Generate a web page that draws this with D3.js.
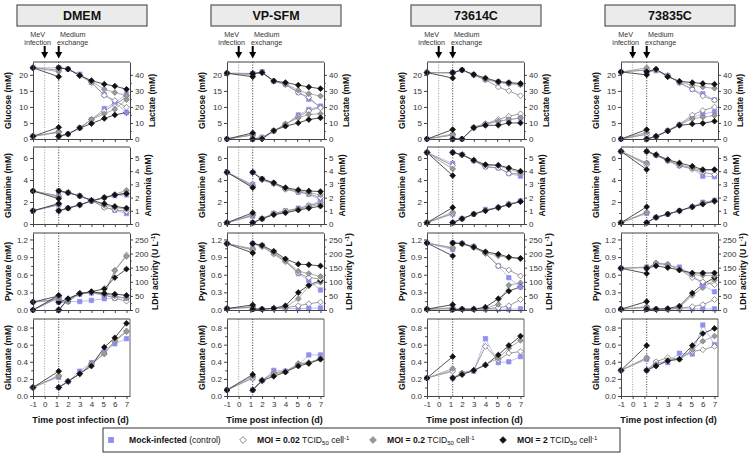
<!DOCTYPE html>
<html><head><meta charset="utf-8">
<script src="https://cdn.jsdelivr.net/npm/d3@7"></script>
<style>body{margin:0;background:#fff}text{font-family:Arial,"Liberation Sans",sans-serif}</style>
</head><body><svg id="c" width="753" height="456"></svg>
<script>
// ---------- DATA ----------
const media = ["DMEM", "VP-SFM", "73614C", "73835C"];
// sampling days: index 0-1 before medium exchange, 2-8 after exchange
const days = [-1, 1.2, 1.2, 2, 3, 4, 5.1, 6, 7];
const xTicks = [-1, 0, 1, 2, 3, 4, 5, 6, 7];
const infectionDay = 0;
const exchangeDay = 1.2;
const seriesNames = ["Mock-infected", "MOI = 0.02", "MOI = 0.2", "MOI = 2"];

const glucoseTicks = [0, 5, 10, 15, 20];
const lactateTicks = [0, 10, 20, 30, 40];
const glutamineTicks = [0, 2, 4, 6];
const ammoniaTicks = [0, 1, 2, 3, 4, 5];
const pyruvateTicks = [0, 0.3, 0.6, 0.9, 1.2];
const ldhTicks = [0, 50, 100, 150, 200, 250];
const glutamateTicks = [0, 0.2, 0.4, 0.6, 0.8];

// each array: [mock, MOI 0.02, MOI 0.2, MOI 2]
const dmemGlucose = [
  [22.2, 22.2, 22.2, 21.8, 20.2, 17.6, 13.8, 11.5, 8.2],
  [22.2, 21.5, 22.2, 21.8, 19.8, 17.6, 13.6, 12.0, 9.9],
  [22.2, 21.0, 22.2, 21.8, 19.8, 17.9, 15.5, 14.5, 13.5],
  [22.2, 19.4, 22.2, 21.8, 19.8, 18.2, 17.1, 16.5, 15.5]];
const dmemLactate = [
  [1.7, 4.2, 1.7, 3.1, 6.9, 12.1, 19.0, 22.5, 28.0],
  [1.7, 4.2, 1.7, 3.1, 6.9, 12.1, 17.4, 21.5, 26.0],
  [1.7, 4.6, 1.7, 3.1, 6.9, 12.1, 15.7, 18.5, 24.5],
  [1.7, 7.3, 1.7, 3.1, 6.9, 9.6, 12.8, 15.0, 16.5]];
const dmemGlutamine = [
  [3.0, 2.55, 3.0, 2.85, 2.55, 2.15, 1.55, 1.25, 0.95],
  [3.0, 2.55, 3.0, 2.85, 2.55, 2.15, 1.5, 1.3, 1.15],
  [3.0, 2.45, 3.0, 2.85, 2.55, 2.15, 1.7, 1.5, 1.35],
  [3.0, 2.3, 3.0, 2.85, 2.55, 2.15, 1.85, 1.6, 1.45]];
const dmemAmmonia = [
  [1.0, 1.45, 1.0, 1.2, 1.45, 1.75, 2.0, 2.15, 2.2],
  [1.0, 1.45, 1.0, 1.2, 1.45, 1.75, 2.0, 2.2, 2.35],
  [1.0, 1.5, 1.0, 1.2, 1.45, 1.75, 2.0, 2.25, 2.55],
  [1.0, 1.55, 1.0, 1.2, 1.45, 1.75, 2.0, 2.2, 2.3]];
const dmemPyruvate = [
  [0.0, 0.2, 0.0, 0.18, 0.27, 0.29, 0.25, 0.22, 0.2],
  [0.0, 0.22, 0.0, 0.18, 0.28, 0.3, 0.26, 0.2, 0.15],
  [0.0, 0.22, 0.0, 0.18, 0.28, 0.3, 0.28, 0.24, 0.2],
  [0.0, 0.25, 0.0, 0.19, 0.28, 0.31, 0.28, 0.27, 0.25]];
const dmemLdh = [
  [28, 35, 28, 30, 30, 34, 40, 42, 45],
  [28, 38, 28, 30, 58, 62, 55, 140, 195],
  [28, 38, 28, 30, 58, 62, 60, 140, 190],
  [28, 50, 28, 40, 58, 65, 75, 115, 145]];
const dmemGlutamate = [
  [0.1, 0.22, 0.1, 0.17, 0.29, 0.39, 0.52, 0.61, 0.67],
  [0.1, 0.24, 0.1, 0.17, 0.26, 0.37, 0.5, 0.64, 0.75],
  [0.1, 0.23, 0.1, 0.17, 0.26, 0.38, 0.49, 0.65, 0.76],
  [0.1, 0.29, 0.1, 0.17, 0.26, 0.35, 0.57, 0.68, 0.85]];

const vpGlucose = [
  [20.5, 20.4, 20.4, 21.0, 18.0, 17.0, 14.5, 12.4, 10.0],
  [20.5, 20.4, 20.4, 20.7, 18.0, 17.0, 14.5, 13.0, 9.7],
  [20.5, 20.0, 20.4, 20.7, 18.1, 17.2, 15.2, 14.1, 13.4],
  [20.5, 19.4, 20.4, 20.7, 18.1, 17.6, 16.8, 16.2, 15.7]];
const vpLactate = [
  [0, 2.5, 0, 1.0, 5.0, 9.0, 15.0, 18.4, 20.5],
  [0, 2.5, 0, 1.0, 5.0, 9.2, 14.0, 17.5, 19.9],
  [0, 2.7, 0, 0.5, 5.0, 9.4, 13.2, 15.3, 15.7],
  [0, 3.8, 0, 0.0, 5.2, 8.0, 10.0, 12.1, 13.2]];
const vpGlutamine = [
  [4.7, 3.6, 4.7, 4.1, 3.7, 3.2, 2.9, 2.7, 2.2],
  [4.7, 3.5, 4.7, 4.0, 3.65, 3.15, 2.9, 2.75, 2.4],
  [4.7, 3.4, 4.7, 4.05, 3.7, 3.25, 3.0, 2.85, 2.65],
  [4.7, 3.3, 4.7, 4.1, 3.75, 3.3, 3.1, 3.0, 2.95]];
const vpAmmonia = [
  [0.1, 0.6, 0.1, 0.4, 0.8, 1.0, 1.2, 1.4, 1.75],
  [0.1, 0.65, 0.1, 0.4, 0.8, 1.0, 1.15, 1.4, 1.6],
  [0.1, 0.7, 0.1, 0.4, 0.75, 0.9, 1.1, 1.3, 1.5],
  [0.1, 0.85, 0.1, 0.4, 0.7, 0.85, 1.05, 1.2, 1.35]];
const vpPyruvate = [
  [1.13, 1.04, 1.13, 1.1, 0.97, 0.84, 0.62, 0.5, 0.34],
  [1.13, 1.02, 1.13, 1.08, 0.95, 0.82, 0.63, 0.55, 0.53],
  [1.13, 1.04, 1.13, 1.08, 0.97, 0.84, 0.66, 0.62, 0.57],
  [1.13, 0.97, 1.13, 1.1, 1.0, 0.87, 0.78, 0.77, 0.75]];
const vpLdh = [
  [5, 8, 3, 3, 5, 5, 5, 6, 7],
  [5, 10, 3, 3, 6, 8, 15, 22, 28],
  [5, 12, 3, 3, 6, 10, 40, 85, 98],
  [5, 18, 3, 3, 6, 15, 62, 88, 105]];
const vpGlutamate = [
  [0.07, 0.21, 0.07, 0.18, 0.3, 0.29, 0.36, 0.48, 0.48],
  [0.07, 0.21, 0.07, 0.18, 0.27, 0.29, 0.37, 0.39, 0.43],
  [0.07, 0.23, 0.07, 0.19, 0.26, 0.28, 0.38, 0.39, 0.44],
  [0.07, 0.25, 0.07, 0.18, 0.23, 0.28, 0.35, 0.38, 0.43]];

const c614Glucose = [
  [20.7, 20.7, 20.7, 21.5, 20.0, 18.6, 17.8, 17.4, 17.0],
  [20.7, 20.7, 20.7, 21.5, 20.0, 18.4, 16.2, 15.0, 13.5],
  [20.7, 20.5, 20.7, 21.5, 20.0, 18.6, 17.6, 17.2, 16.9],
  [20.7, 19.0, 20.7, 21.5, 20.1, 19.0, 17.9, 17.6, 17.3]];
const c614Lactate = [
  [0, 2.5, 0, 0, 7.0, 9.0, 11.0, 12.0, 13.0],
  [0, 2.5, 0, 0, 7.3, 9.5, 12.1, 14.2, 15.7],
  [0, 3.1, 0, 0, 7.3, 9.4, 11.1, 12.1, 13.2],
  [0, 5.9, 0, 0, 7.0, 8.5, 8.6, 10.0, 10.0]];
const c614Glutamine = [
  [6.5, 5.5, 6.5, 6.3, 5.75, 5.2, 5.1, 4.6, 4.35],
  [6.5, 5.3, 6.5, 6.3, 5.75, 5.2, 5.1, 4.6, 4.55],
  [6.5, 5.0, 6.5, 6.3, 5.8, 5.35, 5.3, 5.0, 4.65],
  [6.5, 4.4, 6.5, 6.3, 5.8, 5.4, 5.35, 5.1, 4.8]];
const c614Ammonia = [
  [0.1, 0.75, 0.1, 0.4, 0.75, 1.1, 1.25, 1.5, 1.75],
  [0.1, 0.8, 0.1, 0.4, 0.75, 1.05, 1.25, 1.5, 1.7],
  [0.1, 0.9, 0.1, 0.4, 0.75, 1.0, 1.25, 1.5, 1.72],
  [0.1, 1.25, 0.1, 0.4, 0.75, 1.0, 1.25, 1.45, 1.7]];
const c614Pyruvate = [
  [1.14, 1.03, 1.14, 1.13, 1.08, 0.98, 0.75, 0.55, 0.39],
  [1.14, 1.05, 1.14, 1.13, 1.06, 0.96, 0.75, 0.68, 0.58],
  [1.14, 1.06, 1.14, 1.13, 1.08, 0.97, 0.92, 0.89, 0.87],
  [1.14, 0.92, 1.14, 1.13, 1.07, 0.99, 0.95, 0.9, 0.88]];
const c614Ldh = [
  [3, 4, 2, 3, 3, 3, 3, 3, 4],
  [3, 5, 2, 3, 3, 4, 8, 15, 37],
  [3, 8, 2, 3, 3, 6, 20, 88, 96],
  [3, 19, 2, 3, 3, 10, 40, 67, 82]];
const c614Glutamate = [
  [0.21, 0.3, 0.21, 0.26, 0.29, 0.67, 0.39, 0.4, 0.46],
  [0.21, 0.29, 0.21, 0.27, 0.3, 0.58, 0.42, 0.5, 0.52],
  [0.21, 0.32, 0.21, 0.26, 0.3, 0.37, 0.44, 0.56, 0.65],
  [0.21, 0.46, 0.21, 0.25, 0.3, 0.36, 0.48, 0.59, 0.7]];

const c835Glucose = [
  [20.9, 21.5, 20.9, 21.3, 19.8, 17.6, 15.5, 14.1, 12.2],
  [20.9, 21.5, 20.9, 21.5, 19.8, 17.5, 15.5, 13.4, 12.1],
  [20.9, 22.2, 20.9, 21.5, 19.6, 17.8, 16.8, 16.2, 15.8],
  [20.9, 20.0, 21.0, 21.8, 19.4, 18.0, 17.6, 17.3, 17.1]];
const c835Lactate = [
  [0, 3.0, 0, 1.5, 5.2, 9.0, 13.6, 15.5, 17.0],
  [0, 3.0, 0, 1.5, 5.2, 9.0, 14.9, 17.8, 19.9],
  [0, 4.2, 0, 1.5, 5.2, 8.8, 12.6, 13.6, 14.6],
  [0, 5.9, 0, 1.7, 5.0, 8.5, 9.4, 9.8, 11.1]];
const c835Glutamine = [
  [6.6, 5.5, 6.6, 6.25, 5.75, 5.3, 5.05, 4.35, 4.3],
  [6.6, 5.4, 6.6, 6.25, 5.75, 5.3, 5.0, 4.7, 4.5],
  [6.6, 5.55, 6.6, 6.3, 5.8, 5.4, 5.1, 4.85, 4.9],
  [6.6, 4.95, 6.6, 6.3, 5.85, 5.55, 5.25, 4.95, 4.95]];
const c835Ammonia = [
  [0.1, 0.8, 0.1, 0.5, 0.75, 1.0, 1.3, 1.65, 1.8],
  [0.1, 0.85, 0.1, 0.5, 0.75, 1.0, 1.3, 1.6, 1.72],
  [0.1, 0.9, 0.1, 0.5, 0.75, 1.0, 1.3, 1.55, 1.7],
  [0.1, 1.3, 0.1, 0.5, 0.75, 1.0, 1.3, 1.5, 1.75]];
const c835Pyruvate = [
  [0.71, 0.73, 0.71, 0.78, 0.76, 0.73, 0.6, 0.42, 0.31],
  [0.71, 0.73, 0.71, 0.8, 0.77, 0.69, 0.55, 0.48, 0.43],
  [0.71, 0.72, 0.71, 0.8, 0.78, 0.68, 0.6, 0.59, 0.58],
  [0.71, 0.62, 0.71, 0.75, 0.72, 0.68, 0.63, 0.63, 0.63]];
const c835Ldh = [
  [3, 8, 3, 3, 3, 4, 4, 4, 4],
  [3, 10, 3, 3, 3, 6, 12, 19, 37],
  [3, 12, 3, 3, 4, 10, 52, 79, 106],
  [3, 30, 3, 3, 5, 14, 60, 91, 115]];
const c835Glutamate = [
  [0.3, 0.43, 0.3, 0.39, 0.39, 0.5, 0.49, 0.83, 0.6],
  [0.3, 0.44, 0.3, 0.4, 0.45, 0.43, 0.52, 0.54, 0.58],
  [0.3, 0.45, 0.3, 0.37, 0.42, 0.43, 0.54, 0.64, 0.7],
  [0.3, 0.59, 0.3, 0.35, 0.41, 0.43, 0.59, 0.73, 0.79]];

// ---------- LAYOUT / STYLE ----------
const svg = d3.select("#c");
const colLeft = [33, 227, 427, 621];
const plotW = 97;
const rowTop = [62, 147, 233, 319];
const plotH = 77;
const fontF = 'Arial,"Liberation Sans",sans-serif';

const styles = [
  {fill: "#8f8ff0", stroke: "#8f8ff0", line: "#b4b4ee", shape: "square"},
  {fill: "#ffffff", stroke: "#666", line: "#8c8c8c", shape: "diamond"},
  {fill: "#9a9a9a", stroke: "#7a7a7a", line: "#a0a0a0", shape: "diamond"},
  {fill: "#111", stroke: "#111", line: "#333", shape: "diamond"}
];

const rows = [
  {left: [dmemGlucose, vpGlucose, c614Glucose, c835Glucose],
   right: [dmemLactate, vpLactate, c614Lactate, c835Lactate],
   lDom: [0, 24], rDom: [0, 48], lTicks: glucoseTicks, lMinor: [],
   rTicks: lactateTicks, rMinor: [5, 15, 25, 35], lFmt: d3.format("d"), rFmt: d3.format("d"),
   lTitle: ["Glucose (mM)"], rTitle: ["Lactate (mM)"], rOff: 24.5},
  {left: [dmemGlutamine, vpGlutamine, c614Glutamine, c835Glutamine],
   right: [dmemAmmonia, vpAmmonia, c614Ammonia, c835Ammonia],
   lDom: [0, 7], rDom: [0, 7 * 5 / 6], lTicks: glutamineTicks, lMinor: [1, 3, 5],
   rTicks: ammoniaTicks, rMinor: [], lFmt: d3.format("d"), rFmt: d3.format("d"),
   lTitle: ["Glutamine (mM)"], rTitle: ["Ammonia (mM)"], rOff: 21},
  {left: [dmemPyruvate, vpPyruvate, c614Pyruvate, c835Pyruvate],
   right: [dmemLdh, vpLdh, c614Ldh, c835Ldh],
   lDom: [0, 1.31], rDom: [0, 1.31 * 250 / 1.2], lTicks: pyruvateTicks, lMinor: [0.15, 0.45, 0.75, 1.05],
   rTicks: ldhTicks, rMinor: [25, 75, 125, 175, 225], lFmt: d3.format(".1f"), rFmt: d3.format("d"),
   lTitle: ["Pyruvate (mM)"], rTitle: ["LDH activity (U L", "-1", ")"], rOff: 27.5},
  {left: [dmemGlutamate, vpGlutamate, c614Glutamate, c835Glutamate],
   right: null,
   lDom: [0, 0.9], lTicks: glutamateTicks, lMinor: [0.1, 0.3, 0.5, 0.7],
   lFmt: d3.format(".1f"), lTitle: ["Glutamate (mM)"]}
];

function markerPath(shape) {
  if (shape === "square") return "M-2.2,-2.2H2.2V2.2H-2.2Z";
  const r = 2.9;
  return `M0,${-r}L${r},0L0,${r}L${-r},0Z`;
}

function styleAxis(g) {
  g.selectAll("path.domain").attr("stroke", "#444").attr("stroke-width", 1);
  g.selectAll(".tick line").attr("stroke", "#444");
  g.selectAll(".tick text").attr("fill", "#333").attr("font-size", 8).attr("font-family", fontF);
}

function drawVar(g, x, y, dataSets) {
  const segs = [[0, 1], [2, 3, 4, 5, 6, 7, 8]];
  const line = d3.line();
  dataSets.forEach((vals, si) => {
    segs.forEach(seg => {
      g.append("path")
        .attr("d", line(seg.map(i => [x(days[i]), y(vals[i])])))
        .attr("fill", "none").attr("stroke", styles[si].line).attr("stroke-width", 0.85);
    });
  });
  dataSets.forEach((vals, si) => {
    g.selectAll(null).data(vals.map((v, i) => ({v, i}))).enter().append("path")
      .attr("d", markerPath(styles[si].shape))
      .attr("transform", d => `translate(${x(days[d.i])},${y(d.v)})`)
      .attr("fill", styles[si].fill).attr("stroke", styles[si].stroke).attr("stroke-width", 0.7);
  });
}

media.forEach((m, c) => {
  const L = colLeft[c];
  const x = d3.scaleLinear().domain([-1, 7.3]).range([L, L + plotW]);

  // header box
  svg.append("rect").attr("x", L - 16).attr("y", 5).attr("width", 130).attr("height", 21)
    .attr("fill", "#ebebeb").attr("stroke", "#555").attr("stroke-width", 1.2);
  svg.append("text").attr("x", L + 49).attr("y", 20).attr("text-anchor", "middle")
    .attr("font-size", 12.5).attr("font-weight", "bold").attr("fill", "#111").text(m);

  // annotations
  const x0 = x(infectionDay), x1 = x(exchangeDay);
  [[x0 - 7, ["MeV", "infection"]], [x1 + 14, ["Medium", "exchange"]]].forEach(([tx, lines]) => {
    lines.forEach((t, k) => svg.append("text").attr("x", tx).attr("y", 36.5 + k * 8.3)
      .attr("text-anchor", "middle").attr("font-size", 7.2).attr("fill", "#333").text(t));
  });
  [x0, x1].forEach(ax => {
    svg.append("line").attr("x1", ax).attr("x2", ax).attr("y1", 46).attr("y2", 53)
      .attr("stroke", "#000").attr("stroke-width", 2);
    svg.append("path").attr("d", `M${ax - 3.5},52L${ax + 3.5},52L${ax},58.5Z`).attr("fill", "#000");
  });

  rows.forEach((row, r) => {
    const top = rowTop[r], bot = top + plotH;
    const g = svg.append("g");
    const yL = d3.scaleLinear().domain(row.lDom).range([bot, top]);

    // reference lines
    g.append("line").attr("x1", x0).attr("x2", x0).attr("y1", top).attr("y2", bot)
      .attr("stroke", "#999").attr("stroke-dasharray", "1,1.6");
    g.append("line").attr("x1", x1).attr("x2", x1).attr("y1", top).attr("y2", bot)
      .attr("stroke", "#333").attr("stroke-dasharray", "1,1.6");

    // frame top + right
    g.append("line").attr("x1", L).attr("x2", L + plotW).attr("y1", top).attr("y2", top).attr("stroke", "#444");
    if (!row.right) {
      g.append("line").attr("x1", L + plotW).attr("x2", L + plotW).attr("y1", top).attr("y2", bot).attr("stroke", "#666");
    }

    // data
    if (row.right) {
      const yR = d3.scaleLinear().domain(row.rDom).range([bot, top]);
      drawVar(g, x, yR, row.right[c]);
      const ar = g.append("g").attr("transform", `translate(${L + plotW},0)`)
        .call(d3.axisRight(yR).tickValues(row.rTicks).tickFormat(row.rFmt).tickSize(3).tickSizeOuter(0).tickPadding(2));
      styleAxis(ar);
      if (row.rMinor.length) {
        const mr = g.append("g").attr("transform", `translate(${L + plotW},0)`)
          .call(d3.axisRight(yR).tickValues(row.rMinor).tickFormat("").tickSize(1.8).tickSizeOuter(0));
        mr.select("path.domain").remove(); styleAxis(mr);
      }
      const t = g.append("text").attr("transform", `translate(${L + plotW + row.rOff},${(top + bot) / 2}) rotate(-90)`)
        .attr("text-anchor", "middle").attr("font-size", 8.6).attr("font-weight", "bold").attr("fill", "#111");
      t.append("tspan").text(row.rTitle[0]);
      if (row.rTitle.length > 1) {
        t.append("tspan").attr("dy", -3).attr("font-size", 6).text(row.rTitle[1]);
        t.append("tspan").attr("dy", 3).text(row.rTitle[2]);
      }
    }
    drawVar(g, x, yL, row.left[c]);

    const al = g.append("g").attr("transform", `translate(${L},0)`)
      .call(d3.axisLeft(yL).tickValues(row.lTicks).tickFormat(row.lFmt).tickSize(3).tickSizeOuter(0).tickPadding(2));
    styleAxis(al);
    if (row.lMinor.length) {
      const ml = g.append("g").attr("transform", `translate(${L},0)`)
        .call(d3.axisLeft(yL).tickValues(row.lMinor).tickFormat("").tickSize(1.8).tickSizeOuter(0));
      ml.select("path.domain").remove(); styleAxis(ml);
    }
    g.append("text").attr("transform", `translate(${L - 22.5},${(top + bot) / 2}) rotate(-90)`)
      .attr("text-anchor", "middle").attr("font-size", 8.6).attr("font-weight", "bold").attr("fill", "#111")
      .text(row.lTitle[0]);

    const ab = g.append("g").attr("transform", `translate(0,${bot})`)
      .call(d3.axisBottom(x).tickValues(xTicks).tickSize(3).tickSizeOuter(0).tickPadding(2)
        .tickFormat(r === 3 ? (d => String(d)) : ""));
    styleAxis(ab);
    ab.selectAll(".tick text").attr("font-size", 8);
  });

  svg.append("text").attr("x", L + plotW / 2 - 1).attr("y", 423).attr("text-anchor", "middle")
    .attr("font-size", 9).attr("font-weight", "bold").attr("fill", "#111").text("Time post infection (d)");
});

// ---------- LEGEND ----------
svg.append("rect").attr("x", 103).attr("y", 428).attr("width", 517).attr("height", 24)
  .attr("fill", "#fff").attr("stroke", "#333").attr("stroke-width", 1);
const legX = [111, 243, 373, 503];
const legY = 440;
seriesNames.forEach((name, i) => {
  svg.append("path").attr("d", markerPath(styles[i].shape)).attr("transform", `translate(${legX[i]},${legY}) scale(1.15)`)
    .attr("fill", styles[i].fill).attr("stroke", styles[i].stroke).attr("stroke-width", 0.7);
  const t = svg.append("text").attr("x", legX[i] + (i === 0 ? 18 : 14)).attr("y", legY + 3)
    .attr("font-size", 8.6).attr("fill", "#111");
  t.append("tspan").attr("font-weight", "bold").text(name);
  if (i === 0) {
    t.append("tspan").text(" (control)");
  } else {
    t.append("tspan").text(" TCID");
    t.append("tspan").attr("dy", 2).attr("font-size", 6).text("50");
    t.append("tspan").attr("dy", -2).text(" cell");
    t.append("tspan").attr("dy", -3).attr("font-size", 6).text("-1");
  }
});
</script></body></html>
